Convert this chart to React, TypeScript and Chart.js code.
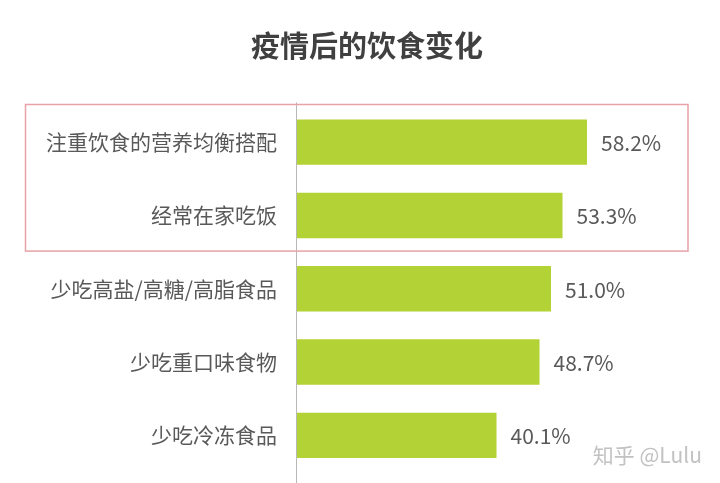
import React, { useEffect, useRef } from "react";
import { Chart, registerables } from "chart.js";

Chart.register(...registerables);

const title = "疫情后的饮食变化";
const categories = [
  "注重饮食的营养均衡搭配",
  "经常在家吃饭",
  "少吃高盐/高糖/高脂食品",
  "少吃重口味食物",
  "少吃冷冻食品",
];
const values = [58.2, 53.3, 51.0, 48.7, 40.1];
const highlightCount = 2;
const watermark = "知乎 @Lulu";

const FONT = "'Noto Sans CJK SC', 'Noto Sans', sans-serif";
const BAR = "#b2d235";
const TEXT = "#595959";

const overlayPlugin = {
  id: "overlay",
  afterDatasetsDraw(chart: any) {
    const { ctx, chartArea, scales } = chart;
    const y = scales.y;
    const meta = chart.getDatasetMeta(0);
    ctx.save();
    // title
    ctx.fillStyle = "#404040";
    ctx.font = `bold 29px ${FONT}`;
    ctx.textAlign = "center";
    ctx.textBaseline = "middle";
    ctx.fillText(title, 367, 46);
    // axis line
    ctx.strokeStyle = "#b8b8b8";
    ctx.lineWidth = 1;
    ctx.beginPath();
    ctx.moveTo(Math.round(chartArea.left) + 0.5, chartArea.top - 3);
    ctx.lineTo(Math.round(chartArea.left) + 0.5, chart.height);
    ctx.stroke();
    // value labels
    ctx.fillStyle = TEXT;
    ctx.font = `21px ${FONT}`;
    ctx.textAlign = "left";
    ctx.textBaseline = "middle";
    meta.data.forEach((bar: any, i: number) => {
      ctx.fillText(values[i].toFixed(1) + "%", bar.x + 14, bar.y + 1);
    });
    // highlight rectangle
    const step = y.getPixelForValue(1) - y.getPixelForValue(0);
    const top = y.getPixelForValue(0) - step / 2 - 1;
    const bottom = y.getPixelForValue(highlightCount - 1) + step / 2 - 1;
    ctx.strokeStyle = "#e8a2a8";
    ctx.lineWidth = 1.5;
    ctx.strokeRect(25.5, top, chartArea.right - 8 - 25.5, bottom - top);
    // watermark
    ctx.fillStyle = "#c2c2c2";
    ctx.font = `21px ${FONT}`;
    ctx.textAlign = "right";
    ctx.fillText(watermark, 702, 455);
    ctx.restore();
  },
};

export default function App() {
  const ref = useRef<HTMLCanvasElement>(null);
  useEffect(() => {
    document.body.style.margin = "0";
    const chart = new Chart(ref.current!, {
      type: "bar",
      data: {
        labels: categories,
        datasets: [
          {
            data: values,
            backgroundColor: BAR,
            borderWidth: 0,
            barPercentage: 0.62,
            categoryPercentage: 1,
          },
        ],
      },
      options: {
        indexAxis: "y",
        responsive: false,
        animation: false,
        layout: { padding: { left: 0, right: 24, top: 105.5, bottom: 11 } },
        plugins: {
          legend: { display: false },
          tooltip: { enabled: false },
          title: { display: false },
        },
        scales: {
          x: { display: false, min: 0, max: 80 },
          y: {
            afterFit: (s: any) => {
              s.width = 296;
              s.paddingTop = 0;
              s.paddingBottom = 0;
            },
            grid: { display: false, drawTicks: false },
            border: { display: false },
            ticks: {
              color: TEXT,
              padding: 19,
              font: { family: FONT, size: 21 },
            },
          },
        },
      },
      plugins: [overlayPlugin],
    });
    return () => chart.destroy();
  }, []);
  return <canvas ref={ref} width={720} height={483} style={{ display: "block" }} />;
}
